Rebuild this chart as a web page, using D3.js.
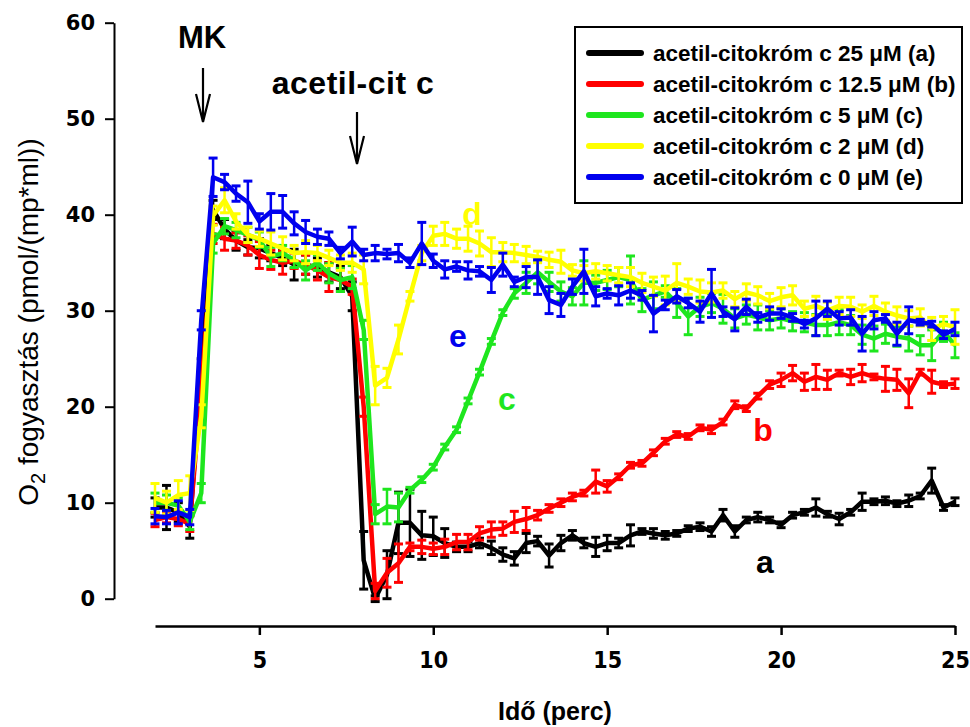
<!DOCTYPE html>
<html>
<head>
<meta charset="utf-8">
<script src="https://cdn.jsdelivr.net/npm/d3@7"></script>
<style>
  body { margin: 0; background: #fff; }
  svg { display: block; font-family: "Liberation Sans", Arial, sans-serif; }
</style>
</head>
<body>
<div id="chart"></div>
<script>
// idő (perc) - mérési pontok
const ido = [2.00, 2.33, 2.67, 3.00, 3.33, 3.67, 4.00, 4.33, 4.67, 5.00,
  5.33, 5.67, 6.00, 6.33, 6.67, 7.00, 7.33, 7.67, 8.00, 8.33,
  8.67, 9.00, 9.33, 9.67, 10.00, 10.33, 10.67, 11.00, 11.33, 11.67,
  12.00, 12.33, 12.67, 13.00, 13.33, 13.67, 14.00, 14.33, 14.67, 15.00,
  15.33, 15.67, 16.00, 16.33, 16.67, 17.00, 17.33, 17.67, 18.00, 18.33,
  18.67, 19.00, 19.33, 19.67, 20.00, 20.33, 20.67, 21.00, 21.33, 21.67,
  22.00, 22.33, 22.67, 23.00, 23.33, 23.67, 24.00, 24.33, 24.67, 25.00];

// (a) 25 uM
const a_ertek = [9.5, 9.5, 9.0, 7.5, 24.0, 40.5, 38.5, 37.3, 36.6, 36.5,
  36.0, 35.5, 34.8, 34.8, 34.5, 34.0, 33.5, 31.5, 4.0, 0.0,
  2.5, 7.9, 7.9, 6.6, 6.5, 5.8, 5.4, 5.4, 5.8, 5.3,
  4.6, 4.2, 5.8, 6.0, 4.5, 5.8, 6.6, 5.8, 5.4, 5.8,
  5.8, 6.6, 7.0, 6.8, 6.6, 6.8, 7.3, 7.5, 7.0, 8.7,
  7.0, 8.2, 8.5, 8.2, 7.7, 8.7, 9.0, 9.5, 8.8, 8.3,
  9.0, 10.1, 10.1, 10.2, 9.9, 10.2, 10.7, 12.3, 9.5, 10.1];
const a_hiba = [1.0, 2.3, 1.0, 1.2, 1.0, 1.0, 1.0, 1.0, 0.8, 1.0,
  0.8, 0.8, 1.6, 1.0, 1.0, 1.0, 1.2, 1.5, 3.0, 0.3,
  2.5, 3.2, 3.5, 2.5, 2.0, 1.5, 0.5, 0.5, 0.5, 0.7,
  0.7, 0.7, 1.0, 0.5, 1.2, 0.8, 0.5, 0.5, 1.0, 0.8,
  0.5, 1.1, 0.3, 0.5, 0.4, 0.3, 0.3, 0.4, 0.5, 0.6,
  0.6, 0.3, 0.5, 0.3, 0.3, 0.3, 0.3, 0.9, 0.3, 0.6,
  0.3, 0.9, 0.3, 0.4, 0.3, 0.6, 0.3, 1.3, 0.3, 0.4];

// (b) 12.5 uM
const b_ertek = [8.2, 8.5, 8.3, 7.8, 22.0, 38.0, 37.5, 37.3, 36.8, 35.8,
  35.3, 35.0, 35.2, 34.8, 34.2, 33.5, 33.2, 32.5, 20.0, 0.8,
  2.7, 3.7, 5.4, 5.4, 5.2, 5.4, 5.9, 5.9, 6.8, 7.2,
  7.3, 8.0, 8.3, 8.7, 9.4, 10.0, 10.6, 11.0, 12.2, 11.7,
  12.7, 13.9, 14.1, 15.2, 16.4, 17.1, 16.9, 17.8, 17.6, 18.4,
  20.2, 19.8, 21.1, 22.3, 22.8, 23.5, 22.6, 23.1, 22.8, 23.5,
  23.1, 23.5, 23.1, 22.9, 22.8, 21.4, 23.6, 22.6, 22.3, 22.4];
const b_hiba = [0.7, 0.6, 0.7, 0.8, 1.0, 1.0, 1.2, 0.8, 1.0, 1.4,
  1.0, 1.2, 0.8, 1.0, 1.0, 1.5, 1.2, 0.8, 1.0, 0.8,
  1.5, 2.0, 0.4, 0.7, 0.6, 0.8, 0.8, 0.8, 0.7, 0.8,
  0.7, 1.1, 1.2, 0.5, 0.4, 0.4, 0.4, 0.3, 1.2, 0.6,
  0.3, 0.3, 0.3, 0.3, 0.3, 0.3, 0.3, 0.3, 0.4, 0.3,
  0.4, 0.3, 0.3, 0.4, 0.7, 0.8, 0.9, 1.3, 1.0, 0.3,
  0.8, 0.9, 0.3, 1.3, 1.1, 1.5, 0.3, 1.2, 0.3, 0.5];

// (c) 5 uM
const c_ertek = [10.0, 10.0, 9.7, 8.0, 11.0, 37.0, 38.8, 38.4, 37.9, 37.4,
  35.6, 36.0, 35.3, 34.2, 35.0, 33.9, 33.2, 33.5, 28.0, 8.8,
  9.6, 9.5, 11.3, 12.4, 13.7, 15.8, 17.6, 20.6, 23.6, 26.8,
  29.8, 31.8, 32.9, 34.0, 33.0, 32.0, 31.5, 32.9, 32.9, 33.2,
  33.5, 33.2, 31.1, 31.6, 32.0, 30.8, 29.4, 30.4, 30.8, 30.2,
  29.2, 29.6, 29.3, 29.0, 29.2, 28.9, 28.8, 28.5, 28.5, 28.8,
  28.5, 27.5, 27.1, 27.6, 27.3, 27.1, 26.4, 26.4, 27.8, 26.4];
const c_hiba = [1.0, 0.8, 0.8, 0.8, 1.0, 1.0, 0.8, 0.8, 0.8, 0.8,
  1.0, 0.8, 0.8, 1.0, 0.8, 1.0, 1.2, 1.2, 1.0, 1.0,
  1.8, 1.5, 0.3, 0.3, 0.3, 0.3, 0.3, 0.3, 0.3, 0.3,
  0.3, 0.5, 1.1, 1.2, 1.0, 1.0, 0.9, 2.3, 0.8, 1.0,
  1.0, 2.5, 1.2, 1.4, 0.6, 1.5, 1.9, 1.0, 1.0, 1.5,
  1.0, 1.0, 1.3, 1.0, 1.0, 1.0, 1.0, 1.1, 1.1, 1.3,
  1.0, 1.0, 1.3, 1.0, 1.0, 1.3, 1.0, 1.6, 1.0, 1.3];

// (d) 2 uM
const d_ertek = [10.5, 10.0, 10.8, 11.0, 19.0, 39.9, 41.5, 39.3, 37.9, 37.5,
  37.0, 36.5, 36.0, 36.1, 36.0, 35.5, 35.0, 35.0, 34.3, 22.2,
  23.0, 27.0, 31.5, 36.0, 37.8, 38.0, 37.5, 37.5, 37.0, 36.1,
  36.1, 36.0, 35.8, 35.6, 35.3, 35.1, 34.2, 33.9, 34.1, 33.9,
  33.7, 33.5, 32.9, 32.5, 32.1, 32.9, 32.5, 32.0, 31.9, 32.1,
  31.2, 31.9, 31.6, 31.0, 31.4, 31.6, 30.2, 30.5, 30.0, 30.5,
  30.4, 29.9, 30.5, 29.9, 29.5, 29.2, 29.3, 28.1, 28.6, 28.3];
const d_hiba = [1.5, 1.2, 1.5, 1.8, 1.2, 1.0, 1.3, 0.8, 0.8, 0.8,
  1.2, 1.2, 0.8, 1.2, 0.8, 0.8, 0.8, 1.0, 1.5, 2.0,
  1.0, 1.5, 0.5, 0.8, 1.0, 1.2, 1.0, 1.3, 1.3, 1.5,
  1.0, 0.9, 0.9, 0.6, 0.8, 1.2, 0.6, 0.8, 0.8, 0.8,
  0.8, 1.0, 1.0, 1.0, 1.5, 2.0, 0.8, 1.2, 1.0, 0.8,
  0.8, 0.9, 0.9, 0.8, 1.0, 1.0, 0.8, 1.0, 0.9, 0.9,
  1.0, 0.7, 1.0, 0.9, 0.9, 0.8, 0.9, 1.2, 0.8, 1.8];

// (e) 0 uM
const e_ertek = [8.6, 8.5, 9.0, 8.5, 29.0, 43.9, 43.4, 42.2, 41.3, 39.3,
  40.3, 40.3, 39.1, 38.2, 37.7, 37.5, 36.0, 37.2, 35.8, 36.0,
  35.9, 36.0, 35.0, 37.0, 35.2, 34.3, 34.6, 34.2, 34.1, 33.2,
  34.8, 33.0, 33.5, 33.5, 31.1, 30.6, 32.5, 34.1, 31.5, 31.8,
  31.6, 32.1, 31.6, 29.7, 30.6, 31.5, 30.8, 29.9, 31.8, 29.9,
  29.1, 30.4, 29.3, 29.7, 29.7, 29.3, 28.6, 29.2, 30.2, 29.2,
  29.3, 27.6, 29.0, 29.2, 27.6, 29.0, 28.8, 28.6, 27.5, 28.1];
const e_hiba = [0.8, 0.7, 1.2, 0.8, 1.0, 2.0, 0.8, 0.8, 2.2, 0.8,
  1.9, 1.7, 1.2, 1.2, 0.8, 0.7, 0.6, 1.5, 0.6, 0.8,
  0.5, 0.9, 0.5, 2.2, 0.7, 0.9, 0.5, 0.9, 0.5, 1.3,
  1.2, 0.5, 1.1, 1.8, 1.4, 1.2, 0.8, 2.3, 1.0, 0.5,
  1.0, 0.8, 0.5, 1.9, 0.5, 0.7, 0.5, 1.1, 2.5, 0.5,
  1.2, 0.8, 0.5, 0.7, 0.5, 0.4, 0.4, 1.8, 0.8, 0.7,
  0.8, 1.8, 0.9, 0.4, 1.2, 1.4, 0.3, 0.3, 0.4, 0.7];

const jelmagyarazat = ["acetil-citokróm c 25 μM (a)", "acetil-citokróm c 12.5 μM (b)",
  "acetil-citokróm c 5 μM (c)", "acetil-citokróm c 2 μM (d)", "acetil-citokróm c 0 μM (e)"];
const betuk = ["a", "b", "c", "d", "e"];
const y_tickek = [0, 10, 20, 30, 40, 50, 60];
const x_tickek = [5, 10, 15, 20, 25];

function grafikon() {
    const width = 970, height = 727;
    const szinek = ["#000000", "#ff0000", "#1ee61e", "#ffff00", "#0000ee"];
    const sorozatok = [
        { ertek: a_ertek, hiba: a_hiba },
        { ertek: b_ertek, hiba: b_hiba },
        { ertek: c_ertek, hiba: c_hiba },
        { ertek: d_ertek, hiba: d_hiba },
        { ertek: e_ertek, hiba: e_hiba }
    ];

    const x = d3.scaleLinear().domain([2, 25]).range([155, 955]);
    const y = d3.scaleLinear().domain([0, 60]).range([598.7, 22.7]);

    const svg = d3.select('#chart').append('svg')
        .attr('width', width)
        .attr('height', height);

    // y tengely
    const yAxis = svg.append('g')
        .attr('transform', 'translate(114,0)')
        .call(d3.axisLeft(y).tickValues(y_tickek).tickSize(9).tickSizeOuter(0).tickPadding(10));
    yAxis.selectAll('path, line').attr('stroke', '#000').attr('stroke-width', 2);
    yAxis.selectAll('text')
        .style('font-family', '"DejaVu Sans", sans-serif')
        .style('font-weight', 'bold')
        .style('font-size', '21px')
        .attr('fill', '#000');

    // x tengely (lejjebb tolva)
    const xAxis = svg.append('g')
        .attr('transform', 'translate(0,626)')
        .call(d3.axisBottom(x).tickValues(x_tickek).tickSize(9).tickSizeOuter(0).tickPadding(17));
    xAxis.selectAll('path, line').attr('stroke', '#000').attr('stroke-width', 2.5);
    xAxis.selectAll('text')
        .style('font-family', '"Liberation Sans Narrow", "DejaVu Sans Condensed", sans-serif')
        .style('font-weight', 'bold')
        .style('font-size', '23px')
        .attr('fill', '#000');

    // tengely cimek
    svg.append('text')
        .attr('x', 555).attr('y', 720)
        .attr('text-anchor', 'middle')
        .style('font-weight', 'bold').style('font-size', '25px')
        .text('Idő (perc)');

    const ycim = svg.append('text')
        .attr('transform', 'translate(38,322) rotate(-90)')
        .attr('text-anchor', 'middle')
        .style('font-size', '28px');
    ycim.append('tspan').text('O');
    ycim.append('tspan').attr('dy', 7).style('font-size', '20px').text('2');
    ycim.append('tspan').attr('dy', -7).text(' fogyasztás (pmol/(mp*ml))');

    const line = d3.line()
        .x((d, i) => x(ido[i]))
        .y(d => y(d));

    // sorozatok rajzolasa
    sorozatok.forEach((s, k) => {
        const g = svg.append('g').attr('class', 'sorozat');
        const pontok = s.ertek.map((v, i) => ({ t: ido[i], v: v, e: s.hiba[i] }));

        g.append('path')
            .datum(s.ertek)
            .attr('d', line)
            .attr('fill', 'none')
            .attr('stroke', szinek[k])
            .attr('stroke-width', 4.5)
            .attr('stroke-linejoin', 'round');

        const hb = g.selectAll('g.hiba').data(pontok).enter().append('g').attr('class', 'hiba');
        hb.append('line')
            .attr('x1', d => x(d.t)).attr('x2', d => x(d.t))
            .attr('y1', d => y(d.v - d.e)).attr('y2', d => y(d.v + d.e))
            .attr('stroke', szinek[k]).attr('stroke-width', 2.5);
        hb.append('line')
            .attr('x1', d => x(d.t) - 4.5).attr('x2', d => x(d.t) + 4.5)
            .attr('y1', d => y(d.v + d.e)).attr('y2', d => y(d.v + d.e))
            .attr('stroke', szinek[k]).attr('stroke-width', 3);
        hb.append('line')
            .attr('x1', d => x(d.t) - 4.5).attr('x2', d => x(d.t) + 4.5)
            .attr('y1', d => y(d.v - d.e)).attr('y2', d => y(d.v - d.e))
            .attr('stroke', szinek[k]).attr('stroke-width', 3);
    });

    // betu cimkek a gorbek mellett
    const betuPoz = [[765, 573], [763, 441], [507, 410], [472, 225], [458, 347]];
    betuk.forEach((b, k) => {
        svg.append('text')
            .attr('x', betuPoz[k][0]).attr('y', betuPoz[k][1])
            .attr('text-anchor', 'middle')
            .attr('fill', szinek[k])
            .style('font-weight', 'bold').style('font-size', '32px')
            .text(b);
    });

    // nyilak es feliratok
    svg.append('text').attr('x', 202).attr('y', 48)
        .attr('text-anchor', 'middle')
        .style('font-weight', 'bold').style('font-size', '31px')
        .text('MK');
    svg.append('text').attr('x', 353).attr('y', 94)
        .attr('text-anchor', 'middle')
        .style('font-weight', 'bold').style('font-size', '32px')
        .style('letter-spacing', '0.5px')
        .text('acetil-cit c');

    function nyil(px, y1, y2) {
        svg.append('path')
            .attr('d', `M${px},${y1}L${px},${y2}M${px - 7},${y2 - 28}L${px},${y2}L${px + 7},${y2 - 28}`)
            .attr('fill', 'none').attr('stroke', '#000').attr('stroke-width', 2.2);
    }
    nyil(203, 68, 122);
    nyil(357, 112, 164);

    // jelmagyarazat
    const leg = svg.append('g');
    leg.append('rect')
        .attr('x', 575).attr('y', 27).attr('width', 387).attr('height', 176)
        .attr('fill', '#fff').attr('stroke', '#000').attr('stroke-width', 2);
    jelmagyarazat.forEach((t, k) => {
        const yy = 53 + k * 31;
        leg.append('line')
            .attr('x1', 589).attr('x2', 641).attr('y1', yy).attr('y2', yy)
            .attr('stroke', szinek[k]).attr('stroke-width', 6).attr('stroke-linecap', 'round');
        leg.append('text')
            .attr('x', 653).attr('y', yy).attr('dy', '0.36em')
            .style('font-weight', 'bold').style('font-size', '22.5px')
            .text(t);
    });
}

grafikon();
</script>
</body>
</html>
